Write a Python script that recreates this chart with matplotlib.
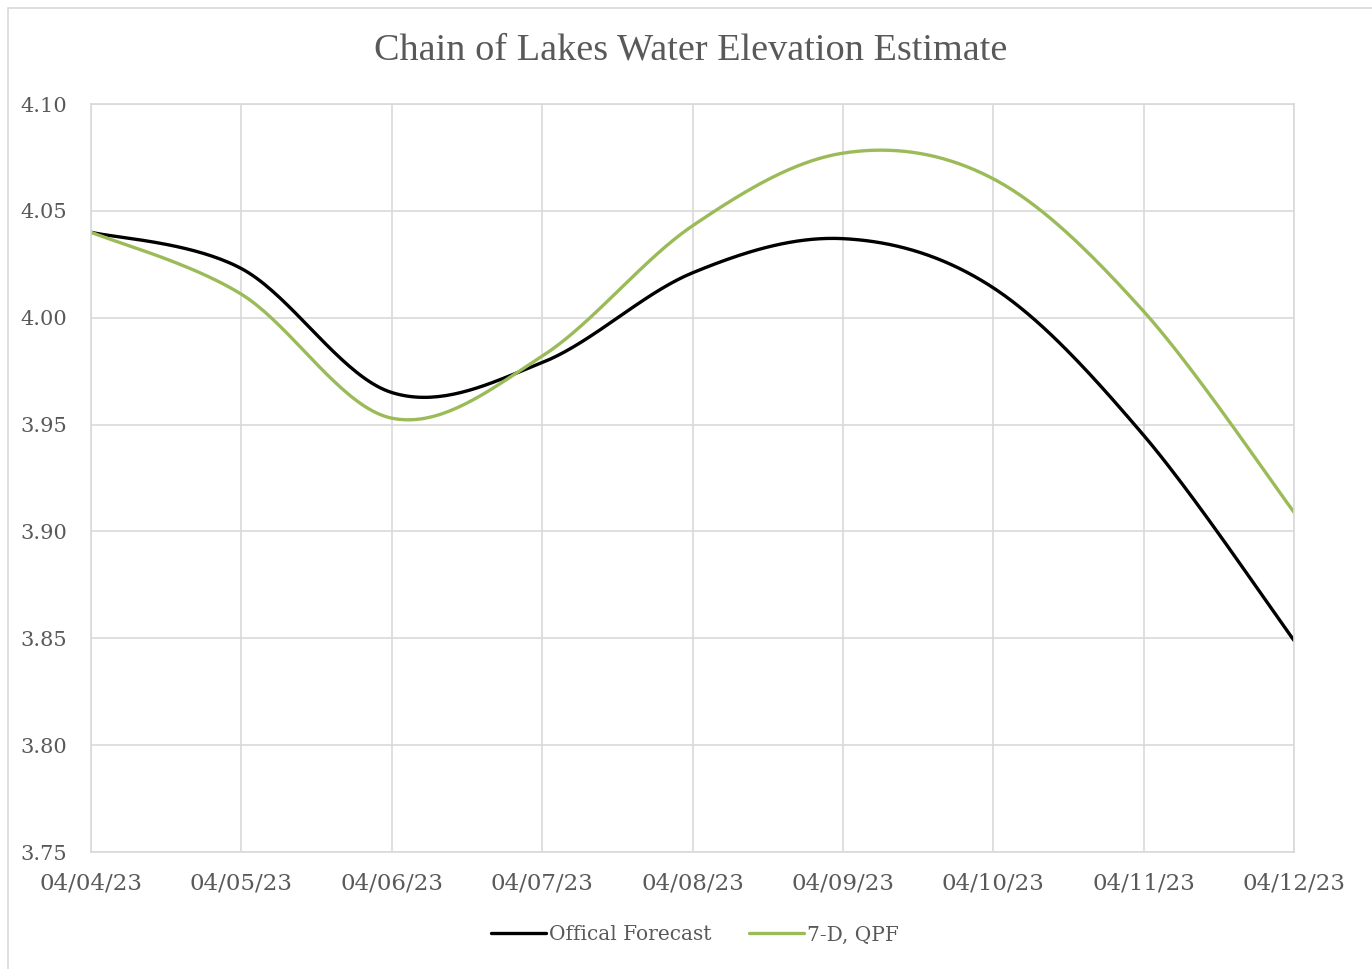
import numpy as np
import matplotlib.pyplot as plt
from matplotlib.patches import Rectangle

dates = ['04/04/23', '04/05/23', '04/06/23', '04/07/23', '04/08/23',
         '04/09/23', '04/10/23', '04/11/23', '04/12/23']
official = [4.040, 4.023, 3.965, 3.979, 4.021, 4.037, 4.014, 3.945, 3.849]
qpf = [4.040, 4.011, 3.953, 3.982, 4.043, 4.077, 4.065, 4.003, 3.909]


def smooth(xs, ys, n=40):
    # excel-like smoothed line (catmull-rom as bezier segments)
    p = np.column_stack([xs, ys]).astype(float)
    pts = []
    for i in range(len(p) - 1):
        p0 = p[i - 1] if i > 0 else p[i]
        p1, p2 = p[i], p[i + 1]
        p3 = p[i + 2] if i + 2 < len(p) else p[i + 1]
        c1 = p1 + (p2 - p0) / 6
        c2 = p2 - (p3 - p1) / 6
        t = np.linspace(0, 1, n)[:, None]
        seg = (1 - t)**3 * p1 + 3 * (1 - t)**2 * t * c1 + 3 * (1 - t) * t**2 * c2 + t**3 * p2
        pts.append(seg if i == 0 else seg[1:])
    pts = np.vstack(pts)
    return pts[:, 0], pts[:, 1]


plt.rcParams['font.family'] = ['DejaVu Serif']
txt = '#595959'
grid = '#d9d9d9'

fig = plt.figure(figsize=(13.72, 9.69), dpi=100)
fig.patches.append(Rectangle((8 / 1372, -0.1), 1.2, 1 - 8 / 969 + 0.1,
                             transform=fig.transFigure, fill=False,
                             edgecolor=grid, lw=1.2))
ax = fig.add_axes([91 / 1372, 1 - 852 / 969, (1294 - 91) / 1372, (852 - 104) / 969])

x = np.arange(len(dates))
sx, sy = smooth(x, official)
ax.plot(sx, sy, color='black', lw=2.4, label='Offical Forecast', solid_capstyle='round')
sx, sy = smooth(x, qpf)
ax.plot(sx, sy, color='#9bbb59', lw=2.4, label='7-D, QPF', solid_capstyle='round')

ax.set_xlim(0, len(dates) - 1)
ax.set_ylim(3.75, 4.10)
ax.set_xticks(x)
ax.set_xticklabels(dates)
ax.set_yticks(np.arange(3.75, 4.101, 0.05))
ax.set_yticklabels([f'{v:.2f}' for v in np.arange(3.75, 4.101, 0.05)])
ax.tick_params(length=0, colors=txt)
ax.tick_params(axis='y', pad=17, labelsize=15)
ax.tick_params(axis='x', pad=15, labelsize=16.5)
ax.grid(True, color=grid, lw=1.2)
for s in ax.spines.values():
    s.set_color(grid)
    s.set_linewidth(1.2)
ax.set_axisbelow(True)

fig.text(691 / 1372, 1 - 50 / 969, 'Chain of Lakes Water Elevation Estimate',
         ha='center', va='center', fontsize=27.5, color=txt,
         family='Liberation Serif')

fig.legend(loc='center', bbox_to_anchor=(695 / 1372, 1 - 935 / 969), ncol=2,
           frameon=False, fontsize=14.5, labelcolor=txt, handlelength=2.7,
           handletextpad=0.15, columnspacing=1.9)

fig.savefig('out.png', dpi=100)
